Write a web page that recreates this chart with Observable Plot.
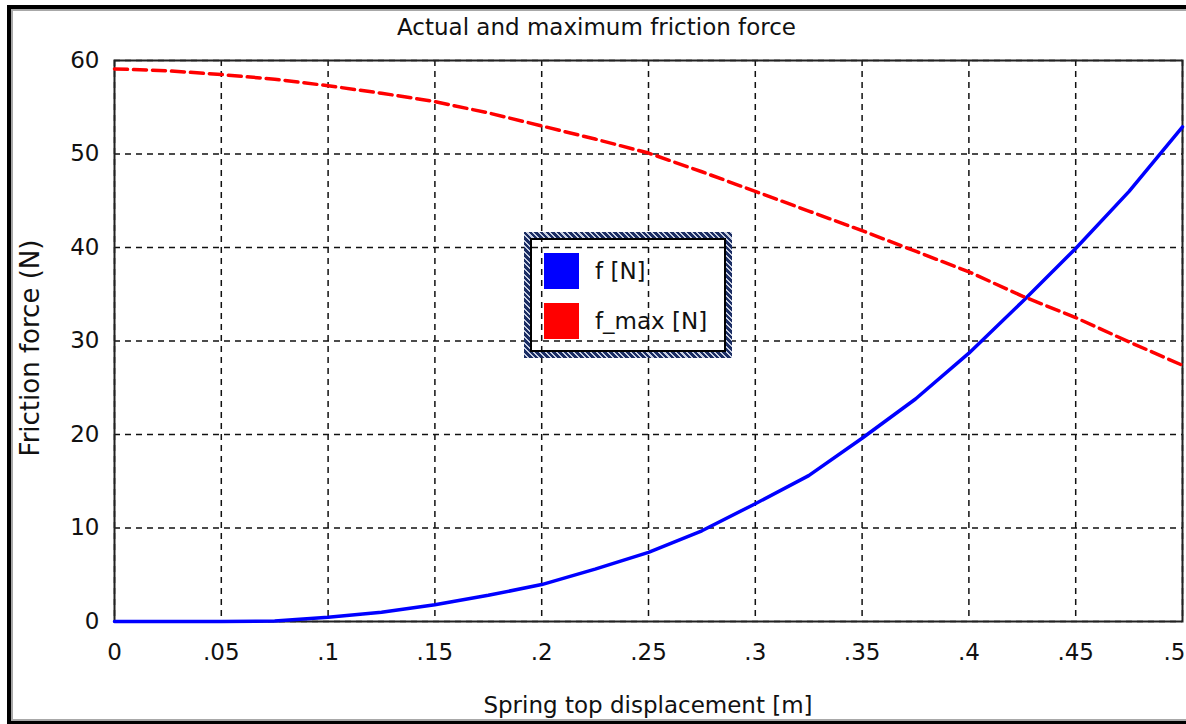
<!DOCTYPE html>
<html>
<head>
<meta charset="utf-8">
<script src="https://cdn.jsdelivr.net/npm/d3@7"></script>
<script src="https://cdn.jsdelivr.net/npm/@observablehq/plot@0.6"></script>
<style>
html, body { margin: 0; padding: 0; background: #fff; overflow: hidden; width: 1186px; height: 724px; }
body { position: relative; font-family: "DejaVu Sans", sans-serif; color: #111; }
#frame { position: absolute; left: 7px; top: 5px; width: 1200px; height: 712px; border: 4px solid #000; border-right: none;
  box-shadow: inset 2px 2px 0 #a8a8a8, inset 0 -2px 0 #a8a8a8; }
#chart { position: absolute; left: 0; top: 0; }
#title { position: absolute; left: 0; width: 1193px; top: 14px; text-align: center; font-size: 23px; line-height: 26px; }
#xlabel { position: absolute; left: 114px; width: 1068px; top: 692px; text-align: center; font-size: 23px; line-height: 26px; }
#ylabel { position: absolute; left: 30px; top: 348px; transform: translate(-50%, -50%) rotate(-90deg); white-space: nowrap; font-size: 26px; line-height: 28px; }
#legend { position: absolute; left: 524px; top: 232px; width: 208px; height: 126px; box-sizing: border-box;
  border: 6px solid transparent;
  border-image: repeating-linear-gradient(45deg, #1b2d63 0 2.5px, #c9d0e2 2.5px 4px) 6; }
#legend .inner { position: absolute; inset: 0; border: 2px solid #000; }
.item { position: absolute; left: 14px; height: 36px; display: flex; align-items: center; font-size: 23px; }
.sw { width: 35px; height: 36px; margin-right: 16px; }
</style>
</head>
<body>
<div id="frame"></div>
<div id="chart"></div>
<div id="title"></div>
<div id="xlabel"></div>
<div id="ylabel"></div>
<div id="legend"><div class="inner"></div></div>
<script>
// ---- data ----
const xValues    = [0, 0.025, 0.05, 0.075, 0.1, 0.125, 0.15, 0.175, 0.2, 0.225, 0.25, 0.275, 0.3, 0.325, 0.35, 0.375, 0.4, 0.425, 0.45, 0.475, 0.5];
const fValues    = [0, 0, 0, 0.05, 0.45, 1.0, 1.8, 2.8, 3.95, 5.6, 7.4, 9.7, 12.6, 15.6, 19.6, 23.8, 28.7, 34.2, 39.9, 46.0, 52.9];
const fmaxValues = [59.1, 58.9, 58.5, 58.0, 57.3, 56.5, 55.6, 54.4, 53.0, 51.6, 50.1, 48.1, 46.0, 43.9, 41.8, 39.6, 37.4, 34.8, 32.5, 29.9, 27.4];
const seriesNames  = ["f [N]", "f_max [N]"];
const seriesColors = ["#0000ff", "#ff0000"];
const xTicks      = [0, 0.05, 0.1, 0.15, 0.2, 0.25, 0.3, 0.35, 0.4, 0.45, 0.5];
const xTickLabels = ["0", ".05", ".1", ".15", ".2", ".25", ".3", ".35", ".4", ".45", ".5"];
const yTicks      = [0, 10, 20, 30, 40, 50, 60];
const titleText  = "Actual and maximum friction force";
const xLabelText = "Spring top displacement [m]";
const yLabelText = "Friction force (N)";

const fData    = xValues.map((x, i) => ({x, y: fValues[i]}));
const fmaxData = xValues.map((x, i) => ({x, y: fmaxValues[i]}));

const gridStyle = {stroke: "#111", strokeOpacity: 1, strokeWidth: 1.5, strokeDasharray: "6,5"};
const fmt = d => xTickLabels[xTicks.indexOf(d)];
const lastTick = xTicks[xTicks.length - 1];

const chart = Plot.plot({
  width: 1186, height: 724,
  marginLeft: 114, marginRight: 4, marginTop: 60, marginBottom: 103,
  x: {domain: [0, 0.5]},
  y: {domain: [0, 60]},
  style: {fontFamily: "DejaVu Sans", fontSize: "23px", color: "#111", background: "transparent"},
  marks: [
    Plot.gridX(xTicks, gridStyle),
    Plot.gridY(yTicks, gridStyle),
    Plot.frame({stroke: "#222", strokeWidth: 2}),
    Plot.line(fData, {x: "x", y: "y", stroke: seriesColors[0], strokeWidth: 3.5}),
    Plot.line(fmaxData, {x: "x", y: "y", stroke: seriesColors[1], strokeWidth: 3.5, strokeDasharray: "13,6"}),
    Plot.axisX(xTicks.slice(0, -1), {tickSize: 0, tickPadding: 22, label: null, fontSize: 23, tickFormat: fmt}),
    Plot.axisX([lastTick], {tickSize: 0, tickPadding: 22, label: null, fontSize: 23, tickFormat: fmt, textAnchor: "end", dx: 3}),
    Plot.axisY(yTicks, {tickSize: 0, tickPadding: 15, label: null, fontSize: 23})
  ]
});
document.getElementById("chart").appendChild(chart);
document.getElementById("title").textContent = titleText;
document.getElementById("xlabel").textContent = xLabelText;
document.getElementById("ylabel").textContent = yLabelText;

const legend = document.getElementById("legend");
seriesNames.forEach((name, i) => {
  const item = document.createElement("div");
  item.className = "item";
  item.style.top = (15 + i * 50) + "px";
  const sw = document.createElement("div");
  sw.className = "sw";
  sw.style.background = seriesColors[i];
  const t = document.createElement("span");
  t.textContent = name;
  item.appendChild(sw);
  item.appendChild(t);
  legend.appendChild(item);
});
</script>
</body>
</html>
